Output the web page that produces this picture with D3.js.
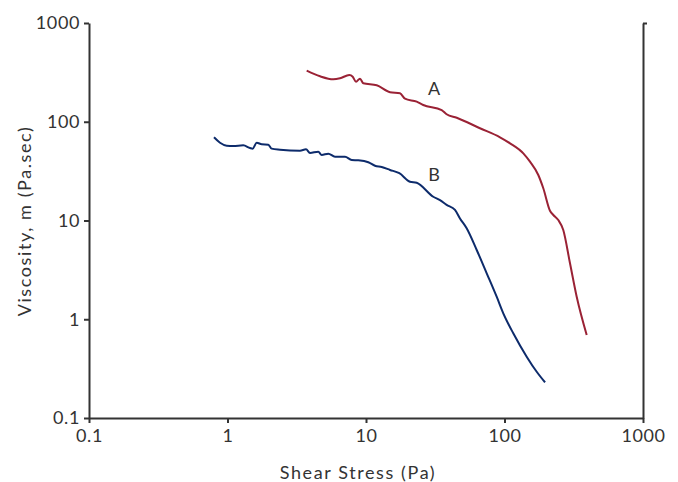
<!DOCTYPE html>
<html><head><meta charset="utf-8">
<script src="https://cdn.jsdelivr.net/npm/d3@7"></script>
<style>
body{margin:0;background:#fff;}
svg text{font-family:"Lato","Open Sans",sans-serif;fill:#333;}
</style></head>
<body><svg id="c" width="678" height="482"></svg>
<script>
const xTicks = [0.1, 1, 10, 100, 1000];
const yTicks = [0.1, 1, 10, 100, 1000];
const xTickLabels = ["0.1", "1", "10", "100", "1000"];
const yTickLabels = ["0.1", "1", "10", "100", "1000"];

const stressA = [3.73,4.66,5.81,6.49,7.58,8.02,8.47,9.05,9.56,11.95,14.91,17.6,19.12,23.23,25.9,35.2,38.2,45.2,66.5,92.8,109.6,136.7,152.8,175.4,190.6,213.0,225.1,244.5,265.7,297.1,332.1,392.2];
const viscA = [328.9,288.6,269.1,275.4,297.4,285.8,254.4,272.9,245.1,233.9,198.7,194.1,171.1,159.6,147.8,131.5,119.0,109.9,85.9,69.6,60.5,47.9,39.4,28.9,21.2,12.57,11.37,10.12,8.01,3.69,1.69,0.693];

const stressB = [0.799,0.883,0.987,1.101,1.30,1.454,1.52,1.625,1.766,1.971,2.085,2.394,3.338,3.688,3.941,4.524,4.787,5.343,5.973,7.056,7.884,8.8,10.39,11.61,12.98,14.91,17.4,20.78,23.23,30.6,34.2,38.2,43.9,47.7,53.3,63.0,74.4,87.8,98.0,115.7,144.6,170.8,196.1];
const viscB = [69.6,61.3,57.2,56.8,57.7,54.2,53.4,61.3,59.1,58.6,53.4,52.1,50.9,52.6,48.3,49.7,46.1,47.5,44.3,44.3,41.0,40.7,38.9,35.9,34.8,32.5,30.1,24.7,24.1,17.4,16.1,14.4,12.8,10.5,8.34,5.03,2.92,1.69,1.149,0.721,0.418,0.294,0.230];

const seriesNames = ["A", "B"];
const labelPos = [[31, 218], [31, 29.6]]; // [stress, viscosity] where label sits

const svg = d3.select("#c");
const x = d3.scaleLog().domain([0.1, 1000]).range([89, 643]);
const y = d3.scaleLog().domain([0.1, 1000]).range([418, 23]);

const axisCol = "#333";

const gy = svg.append("g").attr("transform", "translate(89,0)")
  .call(d3.axisLeft(y).tickValues(yTicks).tickFormat((d,i)=>yTickLabels[i]).tickSize(5).tickSizeOuter(0).tickPadding(4));
const gx = svg.append("g").attr("transform", "translate(0,418)")
  .call(d3.axisBottom(x).tickValues(xTicks).tickFormat((d,i)=>xTickLabels[i]).tickSize(5).tickSizeOuter(0).tickPadding(6));
const gr = svg.append("g").attr("transform", "translate(643,0)")
  .call(d3.axisRight(y).tickValues([1000]).tickFormat("").tickSize(4).tickSizeOuter(0));

[gy, gx, gr].forEach(g => {
  g.select(".domain").attr("stroke", axisCol).attr("stroke-width", 2);
  g.selectAll(".tick line").attr("stroke", axisCol).attr("stroke-width", 2);
  g.selectAll(".tick text").attr("fill", "#333").style("font-size", "18px")
    .style("font-family", "Lato, sans-serif").style("letter-spacing", "0.6px");
});

const line = d3.line().x(d => x(d[0])).y(d => y(d[1])).curve(d3.curveMonotoneX);
const dataA = stressA.map((s, i) => [s, viscA[i]]);
const dataB = stressB.map((s, i) => [s, viscB[i]]);

svg.append("path").datum(dataA).attr("d", line).attr("fill", "none").attr("stroke", "#9a2235").attr("stroke-width", 2);
svg.append("path").datum(dataB).attr("d", line).attr("fill", "none").attr("stroke", "#0d2b6b").attr("stroke-width", 2);

seriesNames.forEach((n, i) => {
  svg.append("text").attr("x", x(labelPos[i][0])).attr("y", y(labelPos[i][1]))
    .attr("text-anchor", "middle").attr("dominant-baseline", "central")
    .style("font-size", "18px").text(n);
});

svg.append("text").attr("x", 358).attr("y", 472).attr("text-anchor", "middle")
  .attr("dominant-baseline", "central").style("font-size", "18px").style("letter-spacing", "1.6px").text("Shear Stress (Pa)");
svg.append("text").attr("transform", "translate(24,221) rotate(-90)").attr("text-anchor", "middle")
  .attr("dominant-baseline", "central").style("font-size", "18px").style("letter-spacing", "1.6px").text("Viscosity, m (Pa.sec)");
</script></body></html>
